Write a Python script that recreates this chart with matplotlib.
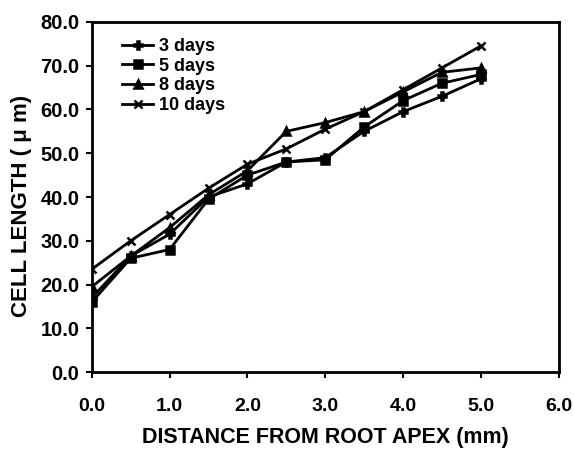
#! /usr/bin/env python3
# -*- coding: utf-8 -*-

import matplotlib
matplotlib.use('Agg')
import matplotlib.pyplot as plt

# distance from root apex (mm)
distance = [0.0, 0.5, 1.0, 1.5, 2.0, 2.5, 3.0, 3.5, 4.0, 4.5, 5.0]

# cell length (um) for each day
days_3 = [17.0, 26.5, 31.5, 40.0, 43.0, 48.0, 49.0, 55.0, 59.5, 63.0, 67.0]
days_5 = [16.0, 26.0, 28.0, 39.5, 45.0, 48.0, 48.5, 56.0, 62.0, 66.0, 68.0]
days_8 = [19.5, 26.5, 33.0, 40.5, 46.0, 55.0, 57.0, 59.5, 64.0, 68.5, 69.5]
days_10 = [23.5, 30.0, 36.0, 42.0, 47.5, 51.0, 55.5, 59.5, 64.5, 69.5, 74.5]

labels = ['3 days', '5 days', '8 days', '10 days']
xticks = [0.0, 1.0, 2.0, 3.0, 4.0, 5.0, 6.0]
yticks = [0, 10, 20, 30, 40, 50, 60, 70, 80]

plt.rcParams['font.family'] = ['Liberation Sans', 'DejaVu Sans']
plt.rcParams['font.weight'] = 'bold'


def main():
    fig = plt.figure(figsize=(5.74, 4.63), dpi=100)
    ax = fig.add_axes([0.160, 0.1965, 0.813, 0.756])

    series = [days_3, days_5, days_8, days_10]
    markers = ['P', 's', '^', 'x']
    for vals, mk, lab in zip(series, markers, labels):
        ax.plot(distance, vals, color='black', lw=2, marker=mk, ms=5.5,
                mew=1.8, label=lab)

    ax.set_xlim(0, 6)
    ax.set_ylim(0, 80)
    ax.set_xticks(xticks)
    ax.set_yticks(yticks)
    ax.set_xticklabels(['%.1f' % v for v in xticks], fontsize=14, fontweight='bold')
    ax.set_yticklabels(['%.1f' % v for v in yticks], fontsize=14.5, fontweight='bold')
    ax.tick_params(direction='out', length=4, width=1.5)
    ax.tick_params(axis='x', pad=15)
    ax.tick_params(axis='y', pad=5)
    for sp in ax.spines.values():
        sp.set_linewidth(2)

    ax.set_xlabel('DISTANCE FROM ROOT APEX (mm)', fontsize=15.5, fontweight='bold', labelpad=8)
    ax.set_ylabel('CELL LENGTH ( \u03bc m)', fontsize=16, fontweight='bold')
    ax.yaxis.set_label_coords(-0.128, 0.475)

    ax.legend(loc='upper left', bbox_to_anchor=(0.05, 0.975), frameon=False,
              fontsize=13, handlelength=1.7, handletextpad=0.3,
              labelspacing=0.15, borderaxespad=0)

    fig.savefig('out.png', dpi=100)
    plt.close(fig)


if __name__ == '__main__':
    main()
